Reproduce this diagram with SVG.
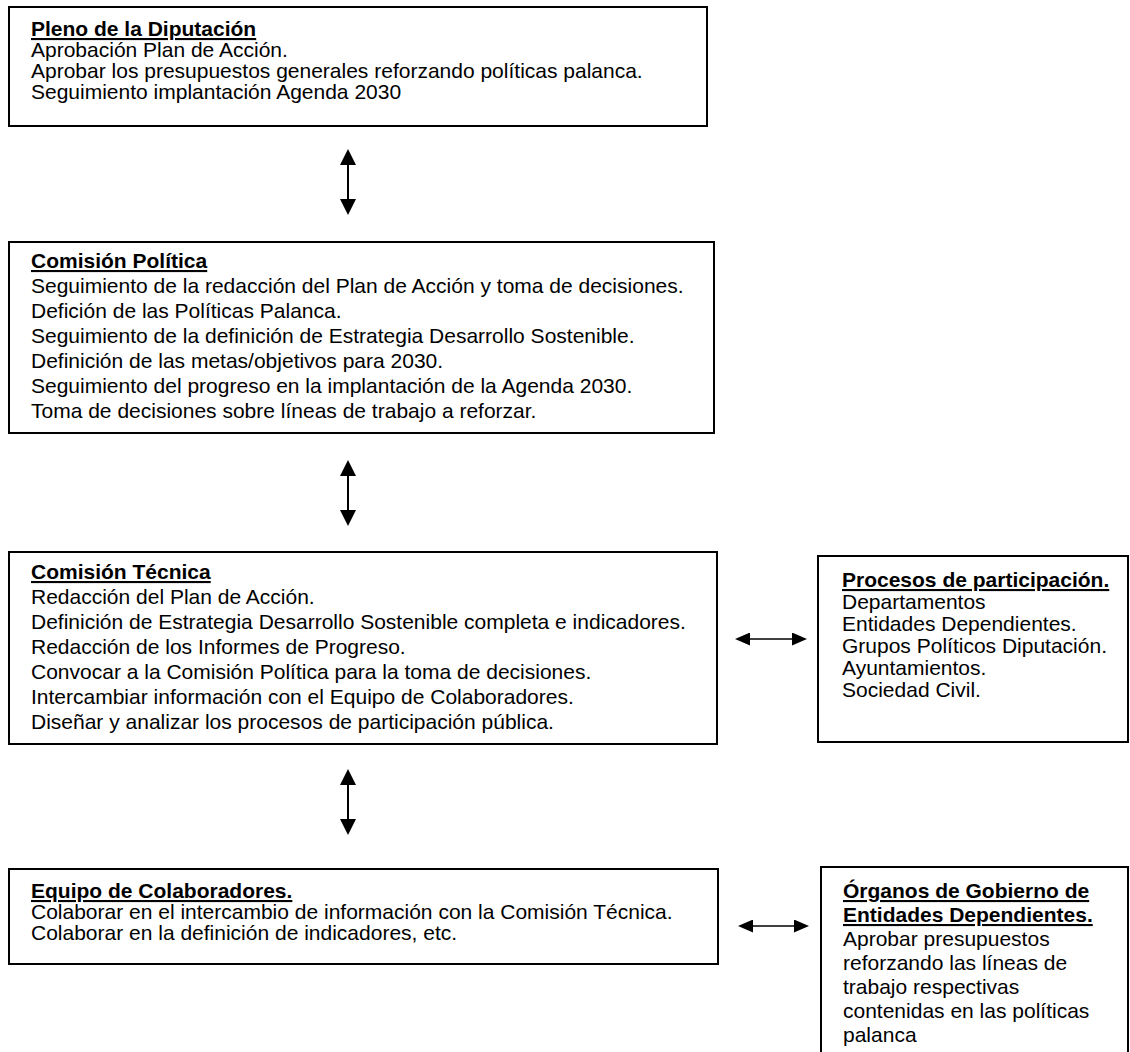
<svg xmlns="http://www.w3.org/2000/svg" width="1130" height="1052" viewBox="0 0 1130 1052">
<style>
.box{fill:#fff;stroke:#000;stroke-width:2}
text{font-family:"Liberation Sans",Arial,sans-serif;font-size:21px;fill:#000}
.t{font-weight:bold;text-decoration:underline}
.conn line{stroke:#000}
.v{stroke-width:2}
.h{stroke-width:1.3}
</style>
<defs>
<marker id="av" viewBox="0 0 16 16" refX="12" refY="8" markerWidth="16" markerHeight="16" markerUnits="userSpaceOnUse" orient="auto-start-reverse"><path d="M0,0 L16,8 L0,16 z" fill="#000"/></marker>
<marker id="ah" viewBox="0 0 15 13" refX="11" refY="6.5" markerWidth="15" markerHeight="13" markerUnits="userSpaceOnUse" orient="auto-start-reverse"><path d="M0,0 L15,6.5 L0,13 z" fill="#000"/></marker>
</defs>
<rect width="1130" height="1052" fill="#fff"/>
<g id="pleno">
<rect class="box" x="9" y="7" width="698" height="119"/>
<text x="31" y="36" class="t">Pleno de la Diputación</text>
<text x="31" y="57">Aprobación Plan de Acción.</text>
<text x="31" y="78">Aprobar los presupuestos generales reforzando políticas palanca.</text>
<text x="31" y="99">Seguimiento implantación Agenda 2030</text>
</g>
<g id="comision-politica">
<rect class="box" x="9" y="242" width="705" height="191"/>
<text x="31" y="268" class="t">Comisión Política</text>
<text x="31" y="293">Seguimiento de la redacción del Plan de Acción y toma de decisiones.</text>
<text x="31" y="318">Defición de las Políticas Palanca.</text>
<text x="31" y="343">Seguimiento de la definición de Estrategia Desarrollo Sostenible.</text>
<text x="31" y="368">Definición de las metas/objetivos para 2030.</text>
<text x="31" y="393">Seguimiento del progreso en la implantación de la Agenda 2030.</text>
<text x="31" y="418">Toma de decisiones sobre líneas de trabajo a reforzar.</text>
</g>
<g id="comision-tecnica">
<rect class="box" x="9" y="552" width="708" height="192"/>
<text x="31" y="579" class="t">Comisión Técnica</text>
<text x="31" y="604">Redacción del Plan de Acción.</text>
<text x="31" y="629">Definición de Estrategia Desarrollo Sostenible completa e indicadores.</text>
<text x="31" y="654">Redacción de los Informes de Progreso.</text>
<text x="31" y="679">Convocar a la Comisión Política para la toma de decisiones.</text>
<text x="31" y="704">Intercambiar información con el Equipo de Colaboradores.</text>
<text x="31" y="729">Diseñar y analizar los procesos de participación pública.</text>
</g>
<g id="procesos">
<rect class="box" x="818" y="556" width="310" height="186"/>
<text x="842" y="587" class="t">Procesos de participación.</text>
<text x="842" y="609">Departamentos</text>
<text x="842" y="631">Entidades Dependientes.</text>
<text x="842" y="653">Grupos Políticos Diputación.</text>
<text x="842" y="675">Ayuntamientos.</text>
<text x="842" y="697">Sociedad Civil.</text>
</g>
<g id="equipo">
<rect class="box" x="9" y="869" width="709" height="95"/>
<text x="31" y="898" class="t">Equipo de Colaboradores.</text>
<text x="31" y="919">Colaborar en el intercambio de información con la Comisión Técnica.</text>
<text x="31" y="940">Colaborar en la definición de indicadores, etc.</text>
</g>
<g id="organos">
<rect class="box" x="821" y="867" width="307" height="200"/>
<text x="843" y="898" class="t">Órganos de Gobierno de</text>
<text x="843" y="922" class="t">Entidades Dependientes.</text>
<text x="843" y="946">Aprobar presupuestos</text>
<text x="843" y="970">reforzando las líneas de</text>
<text x="843" y="994">trabajo respectivas</text>
<text x="843" y="1018">contenidas en las políticas</text>
<text x="843" y="1042">palanca</text>
</g>
<g id="connectors" class="conn">
<line class="v" x1="348" y1="153" x2="348" y2="211" marker-start="url(#av)" marker-end="url(#av)"/>
<line class="v" x1="348" y1="464" x2="348" y2="522" marker-start="url(#av)" marker-end="url(#av)"/>
<line class="v" x1="348" y1="773" x2="348" y2="831" marker-start="url(#av)" marker-end="url(#av)"/>
<line class="h" x1="739" y1="639" x2="803" y2="639" marker-start="url(#ah)" marker-end="url(#ah)"/>
<line class="h" x1="742" y1="926" x2="805" y2="926" marker-start="url(#ah)" marker-end="url(#ah)"/>
</g>
</svg>
